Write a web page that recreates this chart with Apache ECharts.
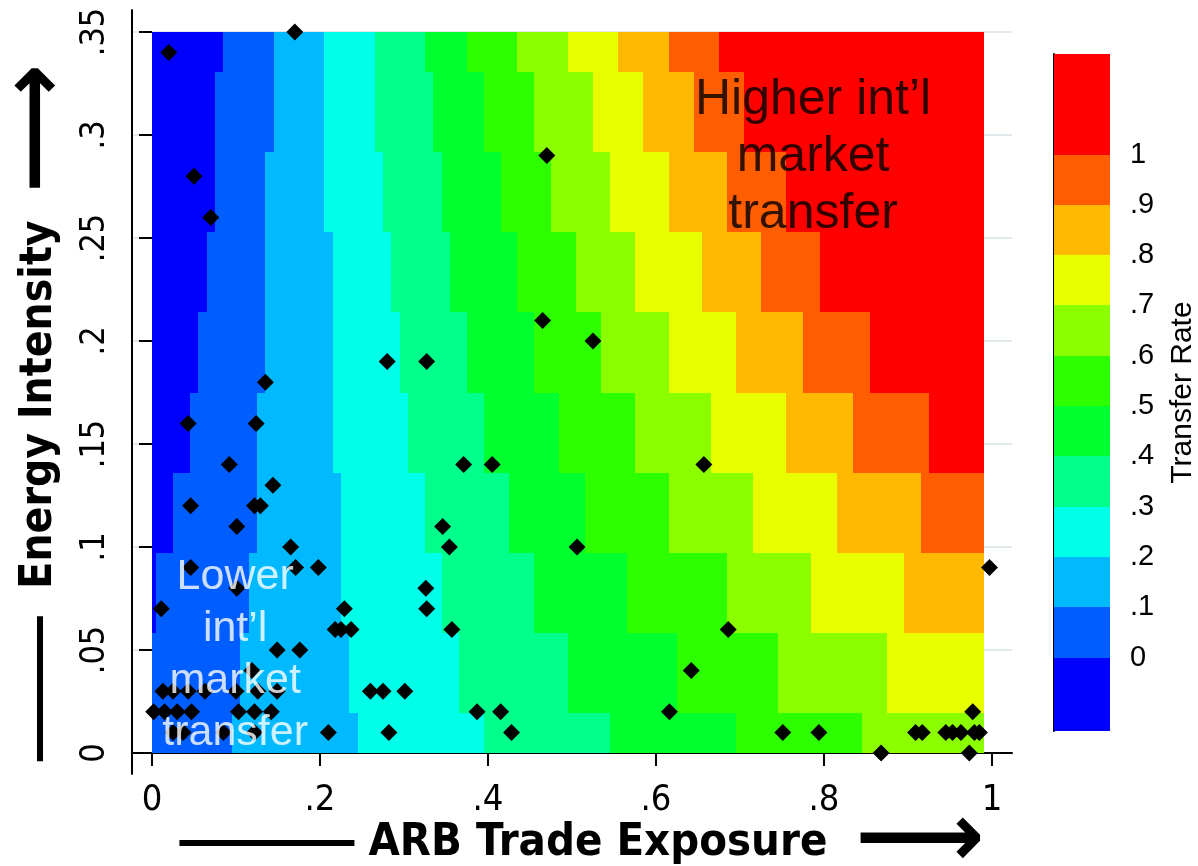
<!DOCTYPE html>
<html><head><meta charset="utf-8">
<script src="https://cdn.jsdelivr.net/npm/echarts@6/dist/echarts.min.js"></script>
<style>html,body{margin:0;padding:0;background:#fff}#c{width:1198px;height:866px}</style>
</head><body><div id="c"></div><script>
// ---- data ----
const levelColors = ['#0000FF','#005DFF','#00B9FF','#00FFE8','#00FF8B','#00FF2E','#2EFF00','#8BFF00','#E8FF00','#FFB900','#FF5D00','#FF0000'];
const colorbarEdges = [-0.146, 0, 0.1, 0.2, 0.3, 0.4, 0.5, 0.6, 0.7, 0.8, 0.9, 1, 1.2];
const colorbarTicks = [0, 0.1, 0.2, 0.3, 0.4, 0.5, 0.6, 0.7, 0.8, 0.9, 1];
const xTicks = [0, 0.2, 0.4, 0.6, 0.8, 1];
const yTicks = [0, 0.05, 0.1, 0.15, 0.2, 0.25, 0.3, 0.35];
// heat-map grid: row centres (energy intensity) and column spacing (trade exposure)
const gridRowsY = [0, 0.0389, 0.0778, 0.1167, 0.1556, 0.1944, 0.2333, 0.2722, 0.3111, 0.35];
const gridColStep = 0.01;
const gridColCount = 100;
// per row (bottom to top): level of the first run and the starting column of each run
const rowFirstLevel = [1, 1, 0, 0, 0, 0, 0, 0, 0, 0];
const rowRunStarts = [
  [0, 10, 25, 40, 55, 70, 85],
  [0, 11, 24, 37, 50, 63, 75, 88],
  [0, 1, 12, 23, 35, 46, 57, 69, 79, 90],
  [0, 3, 13, 23, 33, 43, 52, 62, 72, 82, 92],
  [0, 5, 13, 22, 31, 40, 49, 58, 67, 76, 84, 93],
  [0, 6, 14, 22, 30, 38, 46, 54, 62, 70, 78, 86],
  [0, 7, 14, 22, 29, 36, 44, 51, 58, 66, 73, 80],
  [0, 8, 14, 21, 28, 35, 42, 48, 55, 62, 69, 76],
  [0, 8, 15, 21, 27, 34, 40, 46, 53, 59, 65, 71],
  [0, 9, 15, 21, 27, 33, 38, 44, 50, 56, 62, 68]
];
// industries: ARB trade exposure (x), energy intensity (y)
const industryX = [0.02,0.17,0.05,0.07,0.47,0.465,0.28,0.327,0.525,0.135,
  0.043,0.124,0.092,0.371,0.405,0.657,0.144,0.046,0.122,0.129,
  0.101,0.346,0.165,0.354,0.506,0.046,0.171,0.198,0.997,0.101,0.326,
  0.011,0.229,0.327,0.218,0.225,0.237,0.357,0.686,0.149,0.176,0.119,0.642,
  0.013,0.025,0.043,0.063,0.100,0.126,0.149,0.260,0.275,0.301,
  0.002,0.015,0.030,0.047,0.103,0.122,0.142,0.387,0.415,0.616,0.977,
  0.025,0.037,0.085,0.122,0.210,0.282,0.428,0.751,0.794,0.909,0.917,0.945,0.953,0.963,0.979,0.985,
  0.868,0.973];
const industryY = [0.34,0.35,0.28,0.26,0.29,0.21,0.19,0.19,0.20,0.18,
  0.16,0.16,0.14,0.14,0.14,0.14,0.13,0.12,0.12,0.12,
  0.11,0.11,0.10,0.10,0.10,0.09,0.09,0.09,0.09,0.08,0.08,
  0.07,0.07,0.07,0.06,0.06,0.06,0.06,0.06,0.05,0.05,0.04,0.04,
  0.03,0.03,0.03,0.03,0.03,0.03,0.03,0.03,0.03,0.03,
  0.02,0.02,0.02,0.02,0.02,0.02,0.02,0.02,0.02,0.02,0.02,
  0.01,0.01,0.01,0.01,0.01,0.01,0.01,0.01,0.01,0.01,0.01,0.01,0.01,0.01,0.01,0.01,
  0,0];

// ---- build tables ----
const xMaxData = (gridColCount - 1) * gridColStep;
const cells = [];
rowRunStarts.forEach((starts, r) => {
  const y0 = r === 0 ? 0 : (gridRowsY[r - 1] + gridRowsY[r]) / 2;
  const y1 = r === gridRowsY.length - 1 ? gridRowsY[r] : (gridRowsY[r] + gridRowsY[r + 1]) / 2;
  starts.forEach((c0, j) => {
    const c1 = j + 1 < starts.length ? starts[j + 1] : gridColCount;
    const x0 = c0 === 0 ? 0 : (c0 - 0.5) * gridColStep;
    const x1 = c1 >= gridColCount ? xMaxData : (c1 - 0.5) * gridColStep;
    cells.push([x0, x1, y0, y1, rowFirstLevel[r] + j]);
  });
});
const bars = [];
for (let i = 0; i < colorbarEdges.length - 1; i++) bars.push([0, 1, colorbarEdges[i], colorbarEdges[i + 1], i]);
const points = industryX.map((x, i) => [x, industryY[i]]);

const fmt = v => { if (v === 0) return '0'; if (v === 1) return '1'; return String(+v.toFixed(3)).replace(/^0\./, '.'); };
const rectItem = (params, api) => {
  const p0 = api.coord([api.value(0), api.value(3)]);
  const p1 = api.coord([api.value(1), api.value(2)]);
  const x = Math.round(p0[0]), y = Math.round(p0[1]);
  return { type: 'rect', shape: { x: x, y: y, width: Math.round(p1[0]) - x, height: Math.round(p1[1]) - y },
           style: { fill: levelColors[api.value(4)] } };
};
const COND = "'DejaVu Sans Condensed','Liberation Sans Narrow',sans-serif";
const SANS = "'Liberation Sans',Arial,sans-serif";
const ARROW = "'DejaVu Sans',sans-serif";

const chart = echarts.init(document.getElementById('c'), null, { renderer: 'canvas' });
chart.setOption({
  animation: false,
  backgroundColor: '#fff',
  grid: [
    { left: 152, top: 32, width: 840, height: 721, outerBoundsMode: 'none', containLabel: false },
    { left: 132, top: 10, width: 880, height: 764, outerBoundsMode: 'none', containLabel: false },
    { left: 1054, top: 54, width: 56, height: 677, outerBoundsMode: 'none', containLabel: false }
  ],
  xAxis: [
    { gridIndex: 0, type: 'value', min: 0, max: 1, interval: 0.2, offset: 21,
      axisLine: { show: false }, splitLine: { show: false },
      axisTick: { length: 13, lineStyle: { color: '#000', width: 2 } },
      axisLabel: { formatter: fmt, fontFamily: COND, fontSize: 36, color: '#000', margin: 9 },
      name: '{sp|}{ln|} ARB Trade Exposure  {ar|⟶}', nameLocation: 'middle', nameGap: 42, nameMoveOverlap: false,
      nameTextStyle: { fontFamily: COND, fontWeight: 'bold', fontSize: 45, lineHeight: 54, color: '#000',
        rich: { sp: { width: 20, height: 6 },
                ln: { width: 175, height: 6, backgroundColor: '#000' },
                ar: { fontFamily: ARROW, fontWeight: 'bold', fontSize: 90, lineHeight: 54, color: '#000' } } } },
    { gridIndex: 1, type: 'value', min: 0, max: 1,
      axisLine: { lineStyle: { color: '#000', width: 2 } }, axisTick: { show: false },
      axisLabel: { show: false }, splitLine: { show: false } },
    { gridIndex: 2, type: 'value', min: 0, max: 1, show: false }
  ],
  yAxis: [
    { gridIndex: 0, type: 'value', min: 0, max: 0.35, interval: 0.05, offset: 20,
      axisLine: { show: false }, splitLine: { show: false },
      axisTick: { length: 13, lineStyle: { color: '#000', width: 2 } },
      axisLabel: { formatter: fmt, fontFamily: COND, fontSize: 34, color: '#000', rotate: 90, margin: 20 },
      name: '{ln|}  Energy Intensity  {ar|⟶}{sp|}', nameLocation: 'middle', nameGap: 65, nameRotate: 90, nameMoveOverlap: false,
      nameTextStyle: { fontFamily: COND, fontWeight: 'bold', fontSize: 44, lineHeight: 54, color: '#000',
        rich: { sp: { width: 40, height: 6 },
                ln: { width: 145, height: 6, backgroundColor: '#000' },
                ar: { fontFamily: ARROW, fontWeight: 'bold', fontSize: 90, lineHeight: 54, color: '#000' } } } },
    { gridIndex: 1, type: 'value', min: -21 / 2060, max: 0.35 + 22 / 2060, minInterval: 0.05, maxInterval: 0.05,
      axisLine: { show: true, lineStyle: { color: '#000', width: 2 } }, axisTick: { show: false },
      axisLabel: { show: false },
      splitLine: { show: true, showMinLine: false, showMaxLine: false, lineStyle: { color: '#e3eaee', width: 2 } } },
    { gridIndex: 2, type: 'value', position: 'right', min: colorbarEdges[0], max: colorbarEdges[colorbarEdges.length - 1],
      axisLine: { show: true, lineStyle: { color: '#000', width: 2 } },
      axisTick: { show: true, customValues: colorbarTicks, length: 13, lineStyle: { color: '#000', width: 2 } },
      axisLabel: { show: true, customValues: colorbarTicks, formatter: fmt, fontFamily: SANS, fontSize: 29, color: '#000', margin: 20 },
      splitLine: { show: false },
      name: 'Transfer Rate', nameLocation: 'middle', nameRotate: 90, nameGap: 58, nameMoveOverlap: false,
      nameTextStyle: { fontFamily: SANS, fontSize: 30, color: '#000' } }
  ],
  series: [
    { type: 'custom', name: 'transfer rate', xAxisIndex: 0, yAxisIndex: 0, data: cells,
      encode: { x: [0, 1], y: [2, 3] }, renderItem: rectItem, z: 1, silent: true },
    { type: 'custom', name: 'colorbar', xAxisIndex: 2, yAxisIndex: 2, data: bars,
      encode: { x: [0, 1], y: [2, 3] }, renderItem: rectItem, z: 1, silent: true },
    { type: 'scatter', name: 'industries', xAxisIndex: 0, yAxisIndex: 0, data: points,
      symbol: 'diamond', symbolSize: 17, itemStyle: { color: '#000', opacity: 1 }, z: 3, silent: true },
    { type: 'scatter', name: 'notes', xAxisIndex: 0, yAxisIndex: 0, symbolSize: 0, z: 5, silent: true,
      data: [
        { value: [0.787, 0.289], label: { formatter: 'Higher int\u2019l\nmarket\ntransfer', color: '#000', fontSize: 50, lineHeight: 57 } },
        { value: [0.099, 0.0476], label: { formatter: 'Lower\nint\u2019l\nmarket\ntransfer', color: '#fff', fontSize: 43, lineHeight: 52 } }
      ],
      label: { show: true, position: 'inside', fontFamily: SANS, align: 'center', verticalAlign: 'middle' } }
  ]
});
</script></body></html>
